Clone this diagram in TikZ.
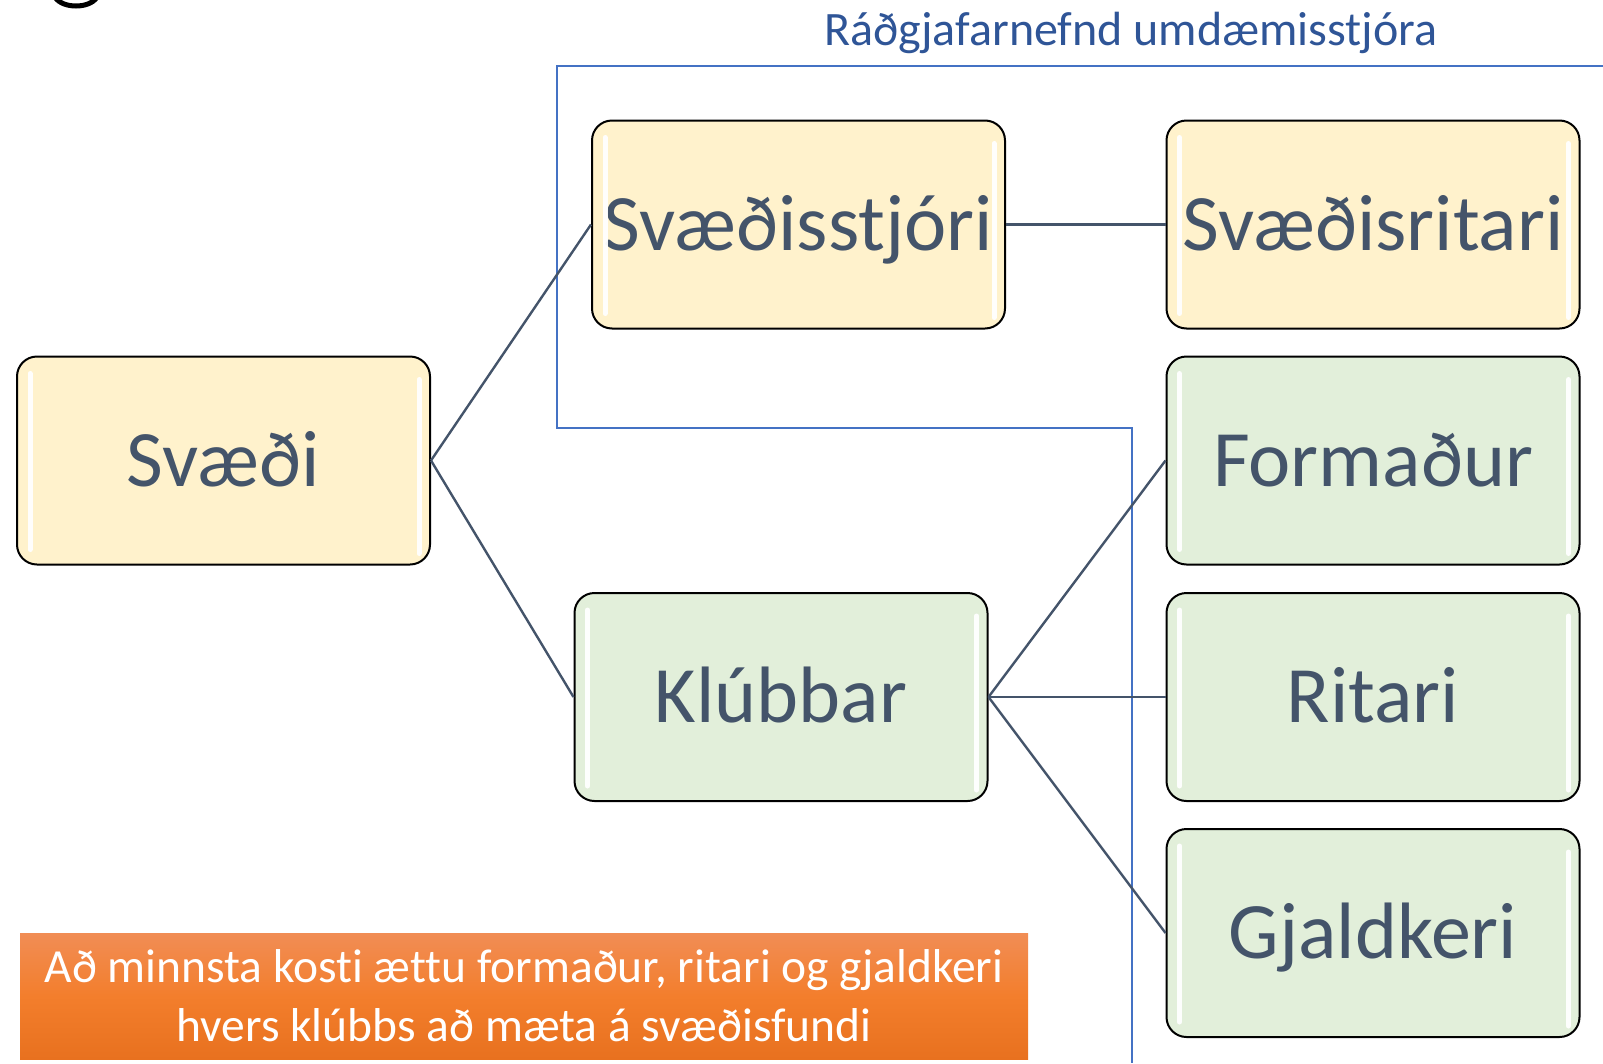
\documentclass[tikz,border=0pt]{standalone}
\usepackage{fontspec}
\setmainfont[RawFeature=-liga]{Carlito}
\definecolor{txtdark}{HTML}{44546A}
\definecolor{yelfill}{HTML}{FFF2CC}
\definecolor{grnfill}{HTML}{E2EFDA}
\definecolor{blueline}{HTML}{4472C4}
\definecolor{titleblue}{HTML}{2F5597}
\definecolor{orgtop}{HTML}{F18D55}
\definecolor{orgmid}{HTML}{F37E2C}
\definecolor{orgbot}{HTML}{E8711F}
\tikzset{
  orgbox/.style={draw=black, line width=2pt, rounded corners=20pt,
    minimum width=413pt, minimum height=208pt, inner sep=0pt,
    text height=51.5pt, text depth=0pt, text=txtdark,
    font=\fontsize{80}{92}\selectfont},
  yelbox/.style={orgbox, fill=yelfill},
  grnbox/.style={orgbox, fill=grnfill},
  conn/.style={draw=txtdark, line width=2.4pt},
  hl/.style={draw=white, line width=5pt, line cap=round, opacity=0.95},
  bline/.style={draw=blueline, line width=2.2pt},
}
\begin{document}
\begin{tikzpicture}[x=1pt,y=-1pt]
\useasboundingbox (0,0) rectangle (1603,1063);
\clip (0,0) rectangle (1603,1063);
% partial glyph at top-left
\draw[line width=5pt, black] (55,-3) .. controls (62,9) and (90,9) .. (97,-3);
% title
\node[anchor=base, text=titleblue, font=\fontsize{48}{56}\selectfont, inner sep=0pt] (title) at (1131,45) {Ráðgjafarnefnd umdæmisstjóra};
% blue outline
\coordinate (b1) at (1603,66);
\coordinate (b2) at (557,66);
\coordinate (b3) at (557,428);
\coordinate (b4) at (1132,428);
\coordinate (b5) at (1132,1063);
\draw[bline] (b1) -- (b2) -- (b3) -- (b4) -- (b5);
% boxes
\node[yelbox] (svaedi) at (223.5,460.5) {Svæði};
\node[yelbox] (stjori) at (798.5,224.5) {Svæðisstjóri};
\node[yelbox] (sritari) at (1373,224.5) {Svæðisritari};
\node[grnbox] (formadur) at (1373,460.5) {Formaður};
\node[grnbox] (klubbar) at (781,697) {Klúbbar};
\node[grnbox] (ritari) at (1373,697) {Ritari};
\node[grnbox] (gjaldkeri) at (1373,933) {Gjaldkeri};
% highlights
\foreach \n in {svaedi,stjori,sritari,formadur,klubbar,ritari,gjaldkeri}{
  \draw[hl] ([xshift=14pt,yshift=-18pt]\n.north west) -- ([xshift=14pt,yshift=16pt]\n.south west);
  \draw[hl] ([xshift=-12pt,yshift=-24pt]\n.north east) -- ([xshift=-12pt,yshift=12pt]\n.south east);
}
% connectors
\draw[conn] (svaedi.east) -- (stjori.west);
\draw[conn] (svaedi.east) -- (klubbar.west);
\draw[conn] (stjori.east) -- (sritari.west);
\draw[conn] (klubbar.east) -- (formadur.west);
\draw[conn] (klubbar.east) -- (ritari.west);
\draw[conn] (klubbar.east) -- (gjaldkeri.west);
% orange note
\node[top color=orgtop, bottom color=orgbot, middle color=orgmid, minimum width=1008pt, minimum height=126pt, inner sep=0pt,
  text=white, font=\fontsize{47.5}{59}\selectfont, align=center] (note) at (524,996)
  {Að minnsta kosti ættu formaður, ritari og gjaldkeri\\hvers klúbbs að mæta á svæðisfundi};
\end{tikzpicture}
\end{document}
